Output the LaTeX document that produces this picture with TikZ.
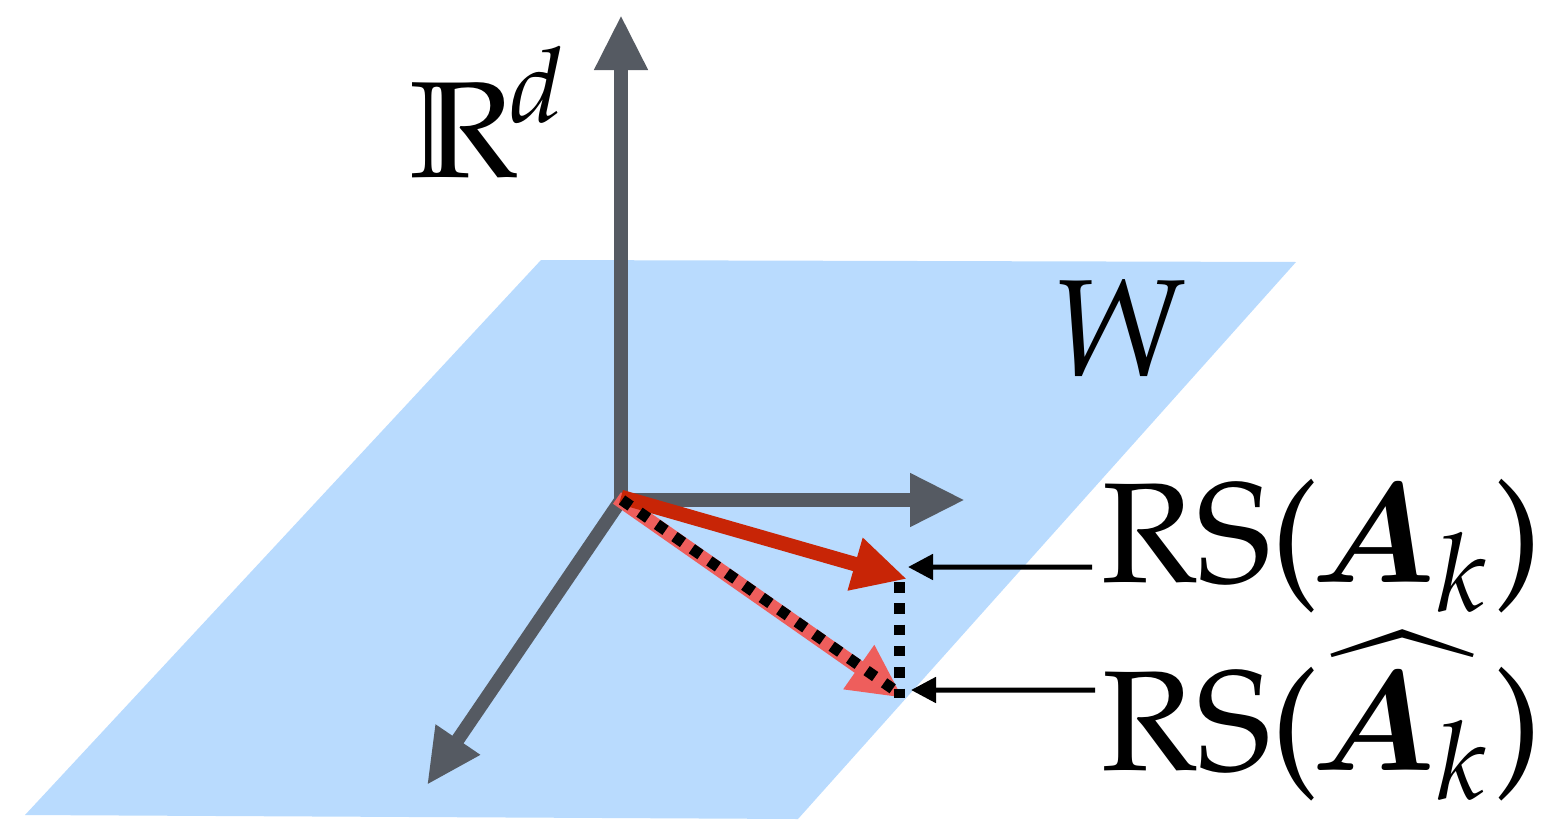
\documentclass[tikz,border=0pt]{standalone}
\usepackage{amsmath,bm}
\usepackage{mathpazo}
\usetikzlibrary{arrows.meta}
\definecolor{planeblue}{HTML}{B9DBFE}
\definecolor{axisgray}{HTML}{555A62}
\definecolor{darkred}{HTML}{C82506}
\definecolor{lightred}{HTML}{EE5E5C}
\newcommand{\rstext}[1]{\usefont{OT1}{ppl}{m}{n}RS(\kern-0.5pt#1)}
\begin{document}
\begin{tikzpicture}[
x=1cm, y=1cm,
plane/.style={fill=planeblue},
axis/.style={-{Triangle[length=0.55cm,width=0.50cm]}, line width=0.135cm, axisgray},
rowspace/.style={-{Triangle[length=0.54cm,width=0.51cm]}, line width=0.145cm, darkred},
rowspacehat/.style={-{Triangle[length=0.54cm,width=0.50cm]}, line width=0.14cm, lightred},
dots/.style={line width=0.11cm, black, dash pattern=on 0.105cm off 0.108cm},
pointer/.style={-{Triangle[length=0.25cm,width=0.25cm]}, line width=0.05cm, black},
labelbig/.style={inner sep=0pt, anchor=base west, scale=3.9},
labelrs/.style={inner sep=0pt, anchor=base west, scale=4.05}
]

% =====================================================
% Plane
% =====================================================
\useasboundingbox (0,0) rectangle (15.42,8.19);
\path[plane] (5.41,5.59) -- (12.96,5.57) -- (7.98,0) -- (0.25,0.04) -- cycle;

% =====================================================
% Axes
% =====================================================
\coordinate (origin) at (6.21,3.19);
\coordinate (axistop) at (6.21,8.04);
\coordinate (axisright) at (9.65,3.19);
\coordinate (axisfront) at (4.27,0.34);

\draw[axis] (origin) -- (axistop);
\draw[axis] (origin) -- (axisright);
\draw[axis] (origin) -- (axisfront);

% =====================================================
% Vectors
% =====================================================
\coordinate (redstart) at (6.21,3.22);
\coordinate (redtip) at (9.07,2.40);
\coordinate (hatstart) at (6.17,3.21);
\coordinate (hattip) at (9.03,1.21);

\draw[rowspacehat] (hatstart) -- (hattip);
\draw[rowspace] (redstart) -- (redtip);

% Dotted lines
\coordinate (dotstart) at (6.22,3.19);
\coordinate (dotend) at (8.93,1.30);
\coordinate (droptop) at (8.99,2.37);
\coordinate (dropend) at (8.99,1.21);

\draw[dots] (dotstart) -- (dotend);
\draw[dots] (droptop) -- (dropend);

% =====================================================
% Labels
% =====================================================
\node[labelbig] (labspace) at (4.07,6.41) {$\mathbb{R}^{\mkern-2mu\raisebox{0.4pt}{$\scriptstyle d$}}$};
\node[labelbig] (labplane) at (10.49,4.44) {$W$};
\node[labelrs] (labrs) at (10.99,2.37) {\rstext{$\bm{A}_k$}};
\node[labelrs] (labrshat) at (10.99,0.49) {\rstext{$\widehat{\bm{A}_k}$}};

\coordinate (pointrs) at (9.08,2.52);
\coordinate (pointrshat) at (9.11,1.29);

\draw[pointer] ([xshift=-0.07cm,yshift=0.15cm]labrs.base west) -- (pointrs);
\draw[pointer] ([xshift=-0.04cm,yshift=0.80cm]labrshat.base west) -- (pointrshat);

\end{tikzpicture}
\end{document}
